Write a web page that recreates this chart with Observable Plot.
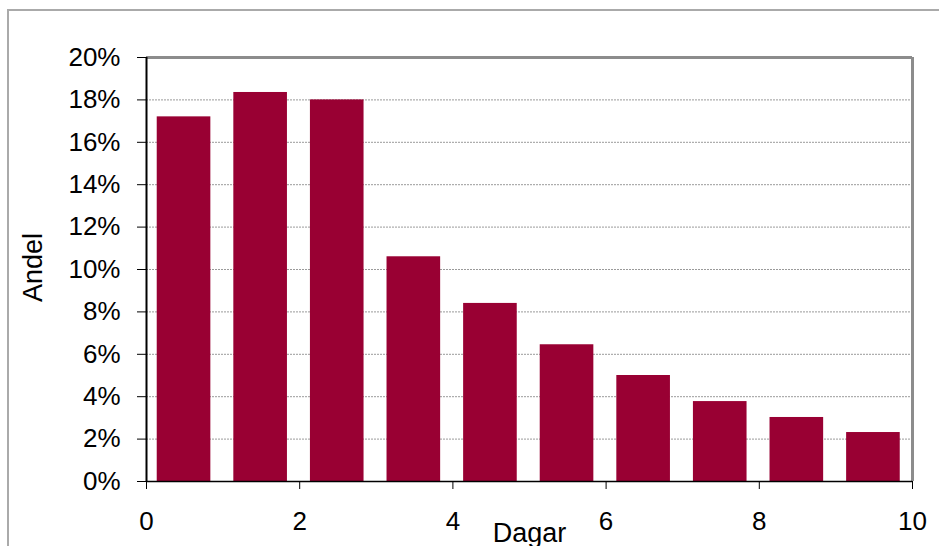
<!DOCTYPE html>
<html>
<head>
<meta charset="utf-8">
<script src="https://cdn.jsdelivr.net/npm/d3@7"></script>
<script src="https://cdn.jsdelivr.net/npm/@observablehq/plot@0.6"></script>
<style>
  html, body { margin: 0; padding: 0; background: #fff; overflow: hidden; }
  #wrap { position: relative; width: 939px; height: 546px; }
  #frame {
    position: absolute; left: 7px; top: 9px; width: 960px; height: 560px;
    border-left: 2px solid #aaaaaa; border-top: 2px solid #aaaaaa;
    box-sizing: border-box; pointer-events: none;
  }
  svg { font-family: "Liberation Sans", Arial, sans-serif; }
</style>
</head>
<body>
<div id="wrap"><div id="frame"></div></div>
<script>
// Share of cases by number of days (one-day bins)
const dayStart = [0, 1, 2, 3, 4, 5, 6, 7, 8, 9];
const share = [17.2, 18.35, 18.0, 10.6, 8.4, 6.45, 5.0, 3.77, 3.02, 2.31];
const yTicks = [0, 2, 4, 6, 8, 10, 12, 14, 16, 18, 20];
const xTicks = [0, 2, 4, 6, 8, 10];
const gridTicks = [2, 4, 6, 8, 10, 12, 14, 16, 18];

const bars = dayStart.map((d, i) => ({start: d, end: d + 1, value: share[i]}));

const barColor = "#990033";
const font = 26;

const chart = Plot.plot({
  width: 939,
  height: 546,
  marginTop: 57,
  marginRight: 27,
  marginBottom: 65,
  marginLeft: 146,
  style: {fontFamily: "'Liberation Sans', Arial, sans-serif", background: "transparent"},
  x: {domain: [0, 10]},
  y: {domain: [0, 20]},
  marks: [
    Plot.ruleY(gridTicks, {stroke: "#9a9a9a", strokeDasharray: "2,1", strokeWidth: 1}),
    Plot.rectY(bars, {
      x1: d => d.start + 0.14,
      x2: d => d.end - 0.16,
      y: "value",
      fill: barColor
    }),
    Plot.ruleY([20], {stroke: "#8c8c8c", strokeWidth: 3}),
    Plot.ruleX([10], {stroke: "#8c8c8c", strokeWidth: 3}),
    Plot.ruleX([0], {stroke: "#000", strokeWidth: 2}),
    Plot.ruleY([0], {stroke: "#000", strokeWidth: 1.5}),
    Plot.axisY({
      ticks: yTicks, tickFormat: d => d + "%", tickSize: 9, tickPadding: 17,
      fontSize: font, label: null, stroke: "#000", color: "#000"
    }),
    Plot.axisX({
      ticks: xTicks, tickSize: 8, tickPadding: 22,
      fontSize: font, label: null, stroke: "#000", color: "#000"
    }),
    Plot.text(["Andel"], {
      frameAnchor: "left", textAnchor: "middle", dx: -113, dy: -2, rotate: -90,
      fontSize: 27, fill: "#000"
    }),
    Plot.text(["Dagar"], {
      frameAnchor: "bottom", textAnchor: "middle", dy: 60, fontSize: 27, fill: "#000"
    })
  ]
});

chart.style.position = "absolute";
chart.style.left = "0";
chart.style.top = "0";
document.getElementById("wrap").appendChild(chart);
</script>
</body>
</html>
